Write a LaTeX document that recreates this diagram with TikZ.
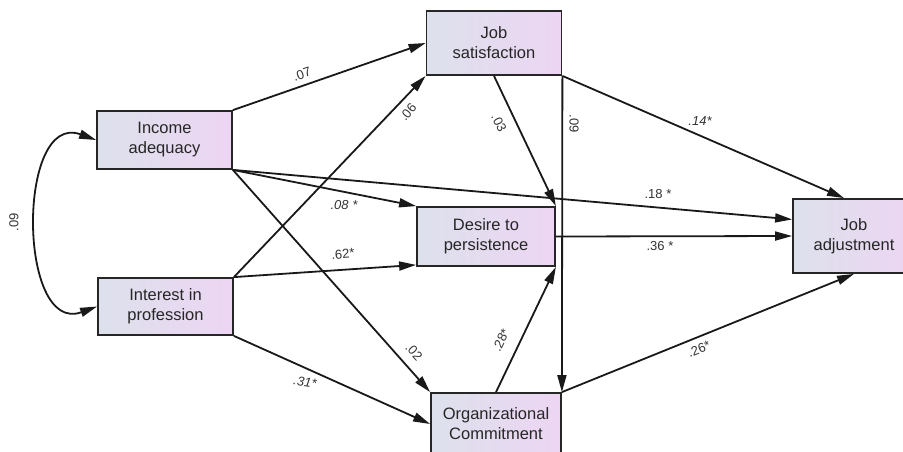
\documentclass[tikz,border=0pt]{standalone}
\usepackage{fontspec}
\setmainfont{Liberation Sans}
\usepackage{xcolor}
\usetikzlibrary{arrows.meta}

\definecolor{boxl}{RGB}{221,225,236}
\definecolor{boxr}{RGB}{237,213,243}

\begin{document}
\begin{tikzpicture}[x=1pt, y=-1pt,
  box/.style={draw=black!85, line width=1.8pt, left color=boxl, right color=boxr,
    inner sep=0pt, align=center, text=black!85, font=\fontsize{16.5}{20}\selectfont},
  lbl/.style={inner sep=1pt, text=black!80, font=\fontsize{13}{15}\selectfont},
  arr/.style={line width=1.8pt, black!90, -{Triangle[length=17pt,width=9pt]}}]
\clip (0,0) rectangle (903,451);

\node[box, minimum width=135pt, minimum height=58pt] (inc) at (164.5,140) {Income\\adequacy};
\node[box, minimum width=135pt, minimum height=57pt] (int) at (165.5,306.5) {Interest in\\profession};
\node[box, minimum width=135pt, minimum height=64pt] (js) at (494,43) {Job\\satisfaction};
\node[box, minimum width=138pt, minimum height=59pt] (des) at (486,236.5) {Desire to\\persistence};
\node[box, minimum width=122pt, minimum height=74pt] (ja) at (854,236) {Job\\adjustment};
\node[box, minimum width=130pt, minimum height=62pt] (oc) at (496,424) {Organizational\\Commitment};

\draw[arr, {Triangle[length=17pt,width=9pt]}-{Triangle[length=17pt,width=9pt]}]
  (inc.west) to[out=160, in=200, looseness=1.3] (int.west)
  node[lbl, rotate=90] (l09a) at (14,222) {.09};

\draw[arr] (inc.north east) -- (js.west) node[lbl, rotate=19] (l07) at (302,74) {.07};
\draw[arr] (int.north east) -- (js.south west) node[lbl, rotate=50] (l06) at (408,112) {.06};
\draw[arr] (inc.south east) -- (des.north west) node[lbl, font=\fontsize{13}{15}\selectfont\itshape] (l08) at (344,205) {.08 *};
\draw[arr] (inc.south east) -- (ja.165) node[lbl] (l18) at (658,194) {.18 *};
\draw[arr] (inc.south east) -- (oc.north west) node[lbl, rotate=-48] (l02) at (414,352) {.02};
\draw[arr] (int.north east) -- ([yshift=2pt]des.south west) node[lbl, rotate=5] (l62) at (343,254) {.62*};
\draw[arr] (int.south east) -- (oc.west) node[lbl, rotate=-8, font=\fontsize{13}{15}\selectfont\itshape] (l31) at (305,382) {.31*};

\draw[arr] (js.south) -- (des.north east) node[lbl, rotate=-63] (l03) at (499,123) {.03};
\draw[arr] (js.south east) -- (oc.north east) node[lbl, rotate=-90] (l09b) at (574,124) {.09};
\draw[arr] (js.south east) -- ([xshift=-10pt]ja.north) node[lbl, font=\fontsize{13}{15}\selectfont\itshape] (l14) at (700,121) {.14*};

\draw[arr] (des.east) -- (ja.west) node[lbl] (l36) at (660,246) {.36 *};
\draw[arr] (oc.north) -- (des.south east) node[lbl, rotate=64] (l28) at (501,340) {.28*};
\draw[arr] (oc.north east) -- (ja.south) node[lbl, rotate=22] (l26) at (699,349) {.26*};

\end{tikzpicture}
\end{document}
